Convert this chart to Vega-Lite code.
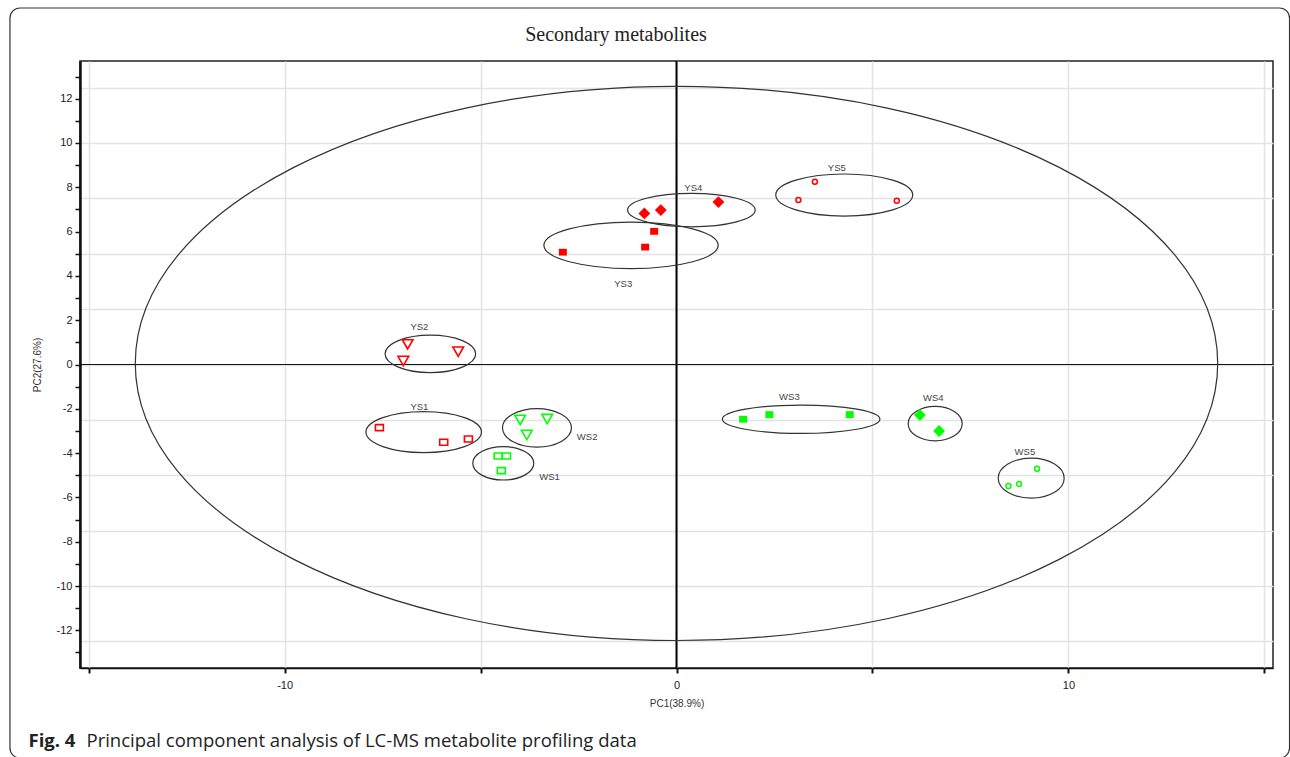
{
  "$schema": "https://vega.github.io/schema/vega-lite/v6.json",
  "width": 1193,
  "height": 607,
  "autosize": {"type": "none"},
  "padding": {"left": 80, "top": 61, "right": 17, "bottom": 89},
  "background": "white",
  "datasets": {
    "points": [
      {"group": "YS1", "site": "YS", "type": 1, "pc1": -7.58, "pc2": -2.85},
      {"group": "YS1", "site": "YS", "type": 1, "pc1": -5.94, "pc2": -3.51},
      {"group": "YS1", "site": "YS", "type": 1, "pc1": -5.31, "pc2": -3.36},
      {"group": "YS2", "site": "YS", "type": 2, "pc1": -6.86, "pc2": 0.91},
      {"group": "YS2", "site": "YS", "type": 2, "pc1": -5.57, "pc2": 0.58},
      {"group": "YS2", "site": "YS", "type": 2, "pc1": -6.97, "pc2": 0.16},
      {"group": "YS3", "site": "YS", "type": 3, "pc1": -0.57, "pc2": 6.01},
      {"group": "YS3", "site": "YS", "type": 3, "pc1": -0.8, "pc2": 5.3},
      {"group": "YS3", "site": "YS", "type": 3, "pc1": -2.9, "pc2": 5.07},
      {"group": "YS4", "site": "YS", "type": 4, "pc1": -0.82, "pc2": 6.82},
      {"group": "YS4", "site": "YS", "type": 4, "pc1": -0.4, "pc2": 6.97},
      {"group": "YS4", "site": "YS", "type": 4, "pc1": 1.07, "pc2": 7.33},
      {"group": "YS5", "site": "YS", "type": 5, "pc1": 3.53, "pc2": 8.25},
      {"group": "YS5", "site": "YS", "type": 5, "pc1": 3.11, "pc2": 7.42},
      {"group": "YS5", "site": "YS", "type": 5, "pc1": 5.62, "pc2": 7.39},
      {"group": "WS1", "site": "WS", "type": 1, "pc1": -4.55, "pc2": -4.13},
      {"group": "WS1", "site": "WS", "type": 1, "pc1": -4.34, "pc2": -4.13},
      {"group": "WS1", "site": "WS", "type": 1, "pc1": -4.47, "pc2": -4.79},
      {"group": "WS2", "site": "WS", "type": 2, "pc1": -3.99, "pc2": -2.5},
      {"group": "WS2", "site": "WS", "type": 2, "pc1": -3.3, "pc2": -2.46},
      {"group": "WS2", "site": "WS", "type": 2, "pc1": -3.82, "pc2": -3.18},
      {"group": "WS3", "site": "WS", "type": 3, "pc1": 1.7, "pc2": -2.47},
      {"group": "WS3", "site": "WS", "type": 3, "pc1": 2.37, "pc2": -2.26},
      {"group": "WS3", "site": "WS", "type": 3, "pc1": 4.42, "pc2": -2.26},
      {"group": "WS4", "site": "WS", "type": 4, "pc1": 6.21, "pc2": -2.28},
      {"group": "WS4", "site": "WS", "type": 4, "pc1": 6.7, "pc2": -3.0},
      {"group": "WS5", "site": "WS", "type": 5, "pc1": 9.2, "pc2": -4.71},
      {"group": "WS5", "site": "WS", "type": 5, "pc1": 8.74, "pc2": -5.39},
      {"group": "WS5", "site": "WS", "type": 5, "pc1": 8.47, "pc2": -5.48}
    ],
    "ellipses": [
      {"group": "YS1", "cx": -6.45, "cy": -3.05, "rx": 1.474, "ry": 0.925, "lx": -6.56, "ly": -1.9},
      {"group": "YS2", "cx": -6.28, "cy": 0.48, "rx": 1.156, "ry": 0.848, "lx": -6.56, "ly": 1.68},
      {"group": "YS3", "cx": -1.16, "cy": 5.38, "rx": 2.224, "ry": 1.051, "lx": -1.36, "ly": 3.62},
      {"group": "YS4", "cx": 0.38, "cy": 6.97, "rx": 1.628, "ry": 0.753, "lx": 0.43, "ly": 7.95},
      {"group": "YS5", "cx": 4.28, "cy": 7.65, "rx": 1.747, "ry": 0.947, "lx": 4.09, "ly": 8.85},
      {"group": "WS1", "cx": -4.42, "cy": -4.46, "rx": 0.778, "ry": 0.753, "lx": -3.24, "ly": -5.06},
      {"group": "WS2", "cx": -3.56, "cy": -2.86, "rx": 0.88, "ry": 0.871, "lx": -2.28, "ly": -3.26},
      {"group": "WS3", "cx": 3.18, "cy": -2.47, "rx": 2.01, "ry": 0.641, "lx": 2.88, "ly": -1.48},
      {"group": "WS4", "cx": 6.6, "cy": -2.67, "rx": 0.689, "ry": 0.776, "lx": 6.55, "ly": -1.52},
      {"group": "WS5", "cx": 9.05, "cy": -5.13, "rx": 0.842, "ry": 0.902, "lx": 8.89, "ly": -3.93},
      {"group": "All", "cx": 0.0, "cy": 0.05, "rx": 13.81, "ry": 12.52, "lx": null, "ly": null}
    ]
  },
  "layer": [
    {
      "data": {"values": [{}]},
      "mark": {"type": "rule", "color": "#000", "strokeWidth": 2},
      "encoding": {
        "x": {"datum": 0, "type": "quantitative", "axis": null, "scale": {"domain": [-15.22, 15.22], "nice": false, "zero": false}}
      }
    },
    {
      "data": {"values": [{}]},
      "mark": {"type": "rule", "color": "#111", "strokeWidth": 1.2},
      "encoding": {
        "y": {"datum": 0, "type": "quantitative", "axis": null, "scale": {"domain": [-13.7, 13.7], "nice": false, "zero": false}}
      }
    },
    {
      "data": {"name": "ellipses"},
      "mark": {"type": "point", "filled": false, "color": "#333", "strokeWidth": 1.2, "opacity": 1},
      "encoding": {
        "x": {
          "field": "cx", "type": "quantitative",
          "scale": {"domain": [-15.22, 15.22], "nice": false, "zero": false},
          "axis": {
            "orient": "bottom",
            "values": [-15, -10, -5, 0, 5, 10, 15],
            "labelExpr": "datum.value % 10 === 0 ? '' + datum.value : ''",
            "grid": true, "gridColor": "#e3e3e3", "gridWidth": 1.5,
            "domain": true, "domainColor": "#111", "domainWidth": 1.5,
            "ticks": true, "tickColor": "#111", "tickSize": 5, "tickWidth": 2,
            "labelFont": "Liberation Sans", "labelFontSize": 11, "labelColor": "#222", "labelPadding": 6,
            "title": "PC1(38.9%)", "titleFont": "Liberation Sans", "titleFontSize": 10,
            "titleFontWeight": "normal", "titleColor": "#333", "titlePadding": 8
          }
        },
        "y": {
          "field": "cy", "type": "quantitative",
          "scale": {"domain": [-13.7, 13.7], "nice": false, "zero": false},
          "axis": {
            "orient": "left",
            "values": [-12, -10, -8, -6, -4, -2, 0, 2, 4, 6, 8, 10, 12],
            "labelExpr": "'' + datum.value",
            "grid": false,
            "domain": true, "domainColor": "#111", "domainWidth": 2.5,
            "ticks": true, "tickColor": "#111", "tickSize": 5, "tickWidth": 1.5,
            "labelFont": "Liberation Sans", "labelFontSize": 11, "labelColor": "#222", "labelPadding": 3,
            "title": "PC2(27.6%)", "titleFont": "Liberation Sans", "titleFontSize": 10,
            "titleFontWeight": "normal", "titleColor": "#333", "titlePadding": 14
          }
        },
        "shape": {
          "field": "group", "type": "nominal", "legend": null,
          "scale": {
            "domain": ["YS1", "YS2", "YS3", "YS4", "YS5", "WS1", "WS2", "WS3", "WS4", "WS5", "All"],
            "range": [
              "M-1,0C-1,-0.196 -0.5523,-0.355 0,-0.355C0.5523,-0.355 1,-0.196 1,0C1,0.196 0.5523,0.355 0,0.355C-0.5523,0.355 -1,0.196 -1,0Z",
              "M-1,0C-1,-0.229 -0.5523,-0.415 0,-0.415C0.5523,-0.415 1,-0.229 1,0C1,0.229 0.5523,0.415 0,0.415C-0.5523,0.415 -1,0.229 -1,0Z",
              "M-1,0C-1,-0.147 -0.5523,-0.267 0,-0.267C0.5523,-0.267 1,-0.147 1,0C1,0.147 0.5523,0.267 0,0.267C-0.5523,0.267 -1,0.147 -1,0Z",
              "M-1,0C-1,-0.145 -0.5523,-0.262 0,-0.262C0.5523,-0.262 1,-0.145 1,0C1,0.145 0.5523,0.262 0,0.262C-0.5523,0.262 -1,0.145 -1,0Z",
              "M-1,0C-1,-0.17 -0.5523,-0.307 0,-0.307C0.5523,-0.307 1,-0.17 1,0C1,0.17 0.5523,0.307 0,0.307C-0.5523,0.307 -1,0.17 -1,0Z",
              "M-1,0C-1,-0.303 -0.5523,-0.548 0,-0.548C0.5523,-0.548 1,-0.303 1,0C1,0.303 0.5523,0.548 0,0.548C-0.5523,0.548 -1,0.303 -1,0Z",
              "M-1,0C-1,-0.309 -0.5523,-0.559 0,-0.559C0.5523,-0.559 1,-0.309 1,0C1,0.309 0.5523,0.559 0,0.559C-0.5523,0.559 -1,0.309 -1,0Z",
              "M-1,0C-1,-0.099 -0.5523,-0.18 0,-0.18C0.5523,-0.18 1,-0.099 1,0C1,0.099 0.5523,0.18 0,0.18C-0.5523,0.18 -1,0.099 -1,0Z",
              "M-1,0C-1,-0.352 -0.5523,-0.637 0,-0.637C0.5523,-0.637 1,-0.352 1,0C1,0.352 0.5523,0.637 0,0.637C-0.5523,0.637 -1,0.352 -1,0Z",
              "M-1,0C-1,-0.335 -0.5523,-0.606 0,-0.606C0.5523,-0.606 1,-0.335 1,0C1,0.335 0.5523,0.606 0,0.606C-0.5523,0.606 -1,0.335 -1,0Z",
              "M-1,0C-1,-0.283 -0.5523,-0.512 0,-0.512C0.5523,-0.512 1,-0.283 1,0C1,0.283 0.5523,0.512 0,0.512C-0.5523,0.512 -1,0.283 -1,0Z"
            ]
          }
        },
        "size": {
          "field": "rx", "type": "quantitative", "legend": null,
          "scale": {"type": "pow", "exponent": 2, "domain": [0, 14], "range": [0, 1204112], "zero": true}
        }
      }
    },
    {
      "data": {"name": "points"},
      "transform": [{"filter": "datum.type === 1"}],
      "mark": {"type": "point", "filled": false, "shape": "M-1,-0.75L1,-0.75L1,0.75L-1,0.75Z", "size": 64, "strokeWidth": 1.6, "opacity": 1},
      "encoding": {
        "x": {
          "field": "pc1", "type": "quantitative",
          "scale": {"domain": [-15.22, 15.22], "nice": false, "zero": false},
          "axis": {
            "orient": "top", "domain": false, "ticks": false, "labels": false, "grid": false,
            "title": "Secondary metabolites", "titleFont": "Liberation Serif", "titleFontSize": 20,
            "titleFontWeight": "normal", "titleColor": "#222", "titleX": 535.5, "titleY": -21,
            "titleAlign": "center", "titleBaseline": "alphabetic", "titleAngle": 0
          }
        },
        "y": {
          "field": "pc2", "type": "quantitative",
          "scale": {"domain": [-13.7, 13.7], "nice": false, "zero": false},
          "axis": {
            "orient": "left",
            "values": [-13, -11, -9, -7, -5, -3, -1, 1, 3, 5, 7, 9, 11, 13],
            "labels": false, "domain": false, "grid": false,
            "ticks": true, "tickColor": "#111", "tickSize": 5, "tickWidth": 1.5,
            "title": null
          }
        },
        "color": {"field": "site", "type": "nominal", "legend": null, "scale": {"domain": ["YS", "WS"], "range": ["#ff0000", "#00ff00"]}}
      }
    },
    {
      "data": {"name": "points"},
      "transform": [{"filter": "datum.type === 2"}],
      "mark": {"type": "point", "filled": false, "shape": "triangle-down", "size": 115, "strokeWidth": 1.6, "opacity": 1},
      "encoding": {
        "x": {"field": "pc1", "type": "quantitative", "scale": {"domain": [-15.22, 15.22], "nice": false, "zero": false}, "axis": null},
        "y": {
          "field": "pc2", "type": "quantitative",
          "scale": {"domain": [-13.7, 13.7], "nice": false, "zero": false},
          "axis": {
            "orient": "left",
            "values": [-12.5, -10, -7.5, -5, -2.5, 0, 2.5, 5, 7.5, 10, 12.5],
            "labels": false, "domain": false, "ticks": false,
            "grid": true, "gridColor": "#e3e3e3", "gridWidth": 1.5,
            "title": null
          }
        },
        "color": {"field": "site", "type": "nominal", "legend": null, "scale": {"domain": ["YS", "WS"], "range": ["#ff0000", "#00ff00"]}}
      }
    },
    {
      "data": {"name": "points"},
      "transform": [{"filter": "datum.type === 3"}],
      "mark": {"type": "point", "filled": true, "shape": "M-1,-0.85L1,-0.85L1,0.85L-1,0.85Z", "size": 64, "opacity": 1},
      "encoding": {
        "x": {
          "field": "pc1", "type": "quantitative",
          "scale": {"domain": [-15.22, 15.22], "nice": false, "zero": false},
          "axis": {
            "orient": "bottom", "domain": false, "ticks": false, "labels": false, "grid": false,
            "title": "Fig. 4", "titleFont": "Open Sans", "titleFontSize": 18.5,
            "titleFontWeight": "bold", "titleColor": "#222", "titleX": -52, "titleY": 78,
            "titleAlign": "left", "titleBaseline": "alphabetic", "titleAngle": 0
          }
        },
        "y": {"field": "pc2", "type": "quantitative", "scale": {"domain": [-13.7, 13.7], "nice": false, "zero": false}, "axis": null},
        "color": {"field": "site", "type": "nominal", "legend": null, "scale": {"domain": ["YS", "WS"], "range": ["#ff0000", "#00ff00"]}}
      }
    },
    {
      "data": {"name": "points"},
      "transform": [{"filter": "datum.type === 4"}],
      "mark": {"type": "point", "filled": true, "shape": "diamond", "size": 140, "opacity": 1},
      "encoding": {
        "x": {
          "field": "pc1", "type": "quantitative",
          "scale": {"domain": [-15.22, 15.22], "nice": false, "zero": false},
          "axis": {
            "orient": "bottom", "domain": false, "ticks": false, "labels": false, "grid": false,
            "title": "Principal component analysis of LC-MS metabolite profiling data", "titleFont": "Open Sans", "titleFontSize": 18.5,
            "titleFontWeight": "normal", "titleColor": "#222", "titleX": 6, "titleY": 78,
            "titleAlign": "left", "titleBaseline": "alphabetic", "titleAngle": 0, "titleLimit": 0
          }
        },
        "y": {"field": "pc2", "type": "quantitative", "scale": {"domain": [-13.7, 13.7], "nice": false, "zero": false}, "axis": null},
        "color": {"field": "site", "type": "nominal", "legend": null, "scale": {"domain": ["YS", "WS"], "range": ["#ff0000", "#00ff00"]}}
      }
    },
    {
      "data": {"name": "points"},
      "transform": [{"filter": "datum.type === 5"}],
      "mark": {"type": "point", "filled": false, "shape": "circle", "size": 25, "strokeWidth": 1.5, "opacity": 1},
      "encoding": {
        "x": {"field": "pc1", "type": "quantitative", "scale": {"domain": [-15.22, 15.22], "nice": false, "zero": false}, "axis": null},
        "y": {"field": "pc2", "type": "quantitative", "scale": {"domain": [-13.7, 13.7], "nice": false, "zero": false}, "axis": null},
        "color": {"field": "site", "type": "nominal", "legend": null, "scale": {"domain": ["YS", "WS"], "range": ["#ff0000", "#00ff00"]}}
      }
    },
    {
      "data": {"name": "ellipses"},
      "transform": [{"filter": "datum.group !== 'All'"}],
      "mark": {"type": "text", "font": "Liberation Sans", "fontSize": 9.5, "color": "#444", "align": "center", "baseline": "middle"},
      "encoding": {
        "x": {"field": "lx", "type": "quantitative", "scale": {"domain": [-15.22, 15.22], "nice": false, "zero": false}, "axis": null},
        "y": {"field": "ly", "type": "quantitative", "scale": {"domain": [-13.7, 13.7], "nice": false, "zero": false}, "axis": null},
        "text": {"field": "group", "type": "nominal"}
      }
    },
    {
      "data": {"values": [{}]},
      "mark": {"type": "rect", "filled": false, "color": "#333", "strokeWidth": 1.2, "cornerRadius": 10, "clip": false},
      "encoding": {
        "x": {"datum": -17.007, "type": "quantitative", "axis": null, "scale": {"domain": [-15.22, 15.22], "nice": false, "zero": false}},
        "x2": {"datum": 15.642},
        "y": {"datum": 16.093, "type": "quantitative", "axis": null, "scale": {"domain": [-13.7, 13.7], "nice": false, "zero": false}},
        "y2": {"datum": -17.763}
      }
    }
  ],
  "resolve": {"axis": {"x": "independent", "y": "independent"}},
  "config": {
    "view": {"stroke": "#222", "strokeWidth": 1.5},
    "font": "Liberation Sans"
  }
}
